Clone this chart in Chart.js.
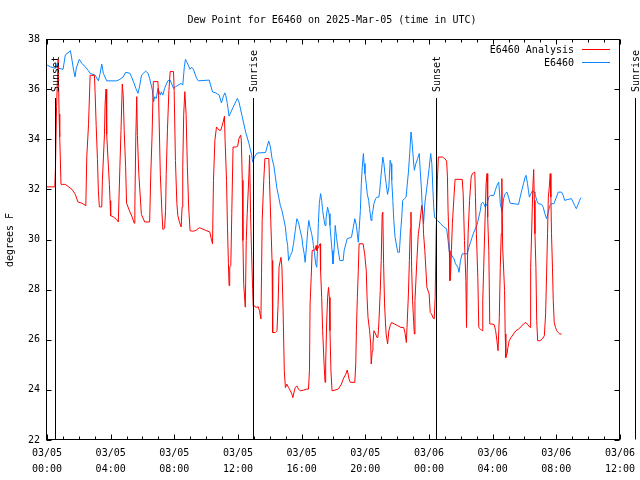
<!DOCTYPE html>
<html>
<head>
<meta charset="utf-8">
<script src="https://cdn.jsdelivr.net/npm/chart.js@4"></script>
<style>
  html, body { margin: 0; padding: 0; background: #fff; }
  canvas { display: block; }
</style>
</head>
<body>
<canvas id="chart" width="640" height="480"></canvas>
<script>
const chartTitle = 'Dew Point for E6460 on 2025-Mar-05 (time in UTC)';
const yTitle = 'degrees F';
const dayLabels = ['03/05', '03/06'];
const analysisLabel = 'E6460 Analysis';
const stationLabel = 'E6460';

// hours since 03/05 00:00 UTC
const analysisHours = [
  0.00, 0.49, 0.53, 0.60, 0.70, 0.76, 0.80, 0.88, 0.99, 1.15, 1.36, 1.57, 1.78, 1.94, 2.19, 2.44,
  2.50, 2.61, 2.71, 2.98, 3.02, 3.09, 3.17, 3.23, 3.29, 3.44, 3.48, 3.61, 3.65, 3.71, 3.75, 3.86,
  3.92, 3.96, 4.00, 4.17, 4.37, 4.48, 4.58, 4.65, 4.73, 4.79, 4.85, 4.94, 5.00, 5.21, 5.35, 5.48,
  5.52, 5.58, 5.64, 5.68, 5.77, 5.93, 6.14, 6.45, 6.52, 6.60, 6.68, 6.97, 7.01, 7.12, 7.22, 7.28,
  7.39, 7.45, 7.49, 7.57, 7.66, 7.74, 7.95, 7.99, 8.07, 8.16, 8.22, 8.32, 8.43, 8.49, 8.53, 8.59,
  8.66, 8.74, 8.82, 8.90, 8.99, 9.16, 9.36, 9.57, 9.67, 9.98, 10.23, 10.32, 10.40, 10.46, 10.55, 10.65,
  10.82, 10.92, 10.98, 11.07, 11.15, 11.19, 11.28, 11.34, 11.40, 11.44, 11.48, 11.55, 11.61, 11.69, 11.86, 11.98,
  12.06, 12.17, 12.21, 12.27, 12.31, 12.36, 12.46, 12.52, 12.58, 12.69, 12.73, 12.79, 12.85, 12.92, 12.96, 13.00,
  13.14, 13.27, 13.35, 13.44, 13.48, 13.52, 13.62, 13.69, 13.94, 13.98, 14.06, 14.14, 14.18, 14.35, 14.45, 14.52,
  14.58, 14.70, 14.76, 14.83, 14.91, 14.98, 15.07, 15.18, 15.29, 15.39, 15.45, 15.54, 15.60, 15.70, 15.80, 15.91,
  16.12, 16.32, 16.43, 16.49, 16.53, 16.60, 16.66, 16.85, 16.91, 16.95, 17.16, 17.19, 17.26, 17.32, 17.41, 17.47,
  17.51, 17.57, 17.63, 17.69, 17.74, 17.78, 17.84, 17.91, 18.09, 18.30, 18.50, 18.61, 18.78, 18.86, 18.92, 18.98,
  19.06, 19.34, 19.40, 19.44, 19.50, 19.56, 19.61, 19.86, 19.96, 20.06, 20.11, 20.17, 20.27, 20.34, 20.37, 20.44,
  20.48, 20.54, 20.65, 20.73, 20.79, 20.85, 20.94, 21.00, 21.06, 21.10, 21.15, 21.21, 21.27, 21.31, 21.40, 21.48,
  21.56, 21.65, 21.83, 22.04, 22.24, 22.41, 22.49, 22.58, 22.62, 22.71, 22.77, 22.83, 22.87, 22.91, 22.97, 23.08,
  23.12, 23.24, 23.33, 23.39, 23.49, 23.55, 23.62, 23.66, 23.74, 23.87, 24.01, 24.08, 24.16, 24.26, 24.33, 24.39,
  24.45, 24.53, 24.59, 24.84, 24.99, 25.11, 25.16, 25.20, 25.28, 25.32, 25.36, 25.41, 25.47, 25.57, 25.64, 26.09,
  26.15, 26.23, 26.32, 26.36, 26.40, 26.46, 26.55, 26.65, 26.73, 26.82, 26.88, 26.92, 26.98, 27.07, 27.13, 27.23,
  27.34, 27.38, 27.44, 27.51, 27.59, 27.65, 27.69, 27.76, 27.82, 27.96, 28.10, 28.19, 28.27, 28.34, 28.42, 28.48,
  28.54, 28.58, 28.63, 28.75, 28.79, 28.83, 28.90, 28.96, 29.04, 29.16, 29.31, 29.46, 29.63, 29.79, 29.94, 30.08,
  30.21, 30.35, 30.37, 30.41, 30.46, 30.52, 30.58, 30.62, 30.66, 30.72, 30.77, 30.83, 30.97, 31.12, 31.25, 31.33,
  31.39, 31.45, 31.50, 31.56, 31.62, 31.66, 31.70, 31.76, 31.81, 31.87, 31.95, 32.03, 32.12, 32.22, 32.33
];
const analysisDewpt = [
  32.1, 32.1, 32.8, 35.3, 37.2, 35.0, 34.1, 32.2, 32.2, 32.2, 32.1, 32.0, 31.8, 31.5, 31.45, 31.35,
  33.3, 34.6, 36.55, 36.55, 35.9, 34.55, 33.2, 31.9, 31.3, 31.3, 32.35, 34.2, 35.4, 36.0, 34.2, 32.9,
  32.2, 31.55, 30.95, 30.9, 30.8, 30.7, 32.9, 34.35, 36.2, 35.75, 34.35, 32.9, 31.45, 31.1, 30.9, 30.65,
  31.3, 34.1, 35.7, 34.15, 32.6, 31.0, 30.7, 30.7, 32.6, 34.1, 36.3, 36.3, 35.75, 32.6, 31.1, 30.4,
  30.45, 31.15, 32.6, 34.4, 35.95, 36.7, 36.7, 35.95, 33.15, 31.45, 30.95, 30.7, 30.5, 31.3, 32.9, 35.0,
  35.9, 35.0, 32.9, 31.3, 30.35, 30.33, 30.36, 30.47, 30.45, 30.36, 30.3, 30.03, 29.83, 32.36, 33.96, 34.49,
  34.36, 34.36, 34.49, 34.69, 34.92, 33.96, 32.36, 30.49, 29.03, 28.16, 28.9, 28.96, 31.03, 33.69, 33.69, 33.72,
  34.03, 34.16, 33.96, 32.36, 29.96, 28.2, 27.3, 29.96, 31.03, 32.63, 33.36, 31.03, 29.56, 28.04, 27.32, 27.36,
  27.29, 27.32, 27.16, 26.83, 28.63, 30.76, 32.36, 33.23, 33.23, 32.36, 30.76, 29.16, 26.29, 26.29, 26.36, 27.4,
  28.9, 29.29, 28.9, 27.3, 24.76, 24.09, 24.23, 24.09, 23.96, 23.83, 23.69, 23.96, 24.09, 24.16, 24.03, 23.96,
  23.99, 24.03, 24.03, 24.76, 27.43, 28.49, 29.56, 29.59, 29.76, 29.56, 29.83, 28.76, 27.69, 26.36, 25.03, 24.3,
  25.03, 26.63, 27.69, 28.09, 27.69, 26.36, 24.76, 23.96, 23.99, 24.03, 24.23, 24.43, 24.63, 24.79, 24.63, 24.43,
  24.3, 24.3, 25.03, 26.36, 27.69, 28.76, 29.83, 29.83, 29.43, 28.76, 27.69, 26.89, 26.36, 25.83, 25.03, 25.56,
  25.83, 26.36, 26.23, 26.09, 26.09, 26.63, 27.96, 29.16, 31.03, 31.09, 29.03, 27.43, 26.63, 26.23, 25.83, 26.36,
  26.56, 26.69, 26.63, 26.56, 26.49, 26.49, 26.29, 25.89, 26.49, 27.83, 29.16, 30.43, 31.09, 28.89, 27.56, 26.23,
  27.56, 29.16, 30.23, 30.49, 31.03, 31.36, 30.96, 30.23, 29.56, 28.09, 27.83, 27.09, 27.03, 26.87, 26.83, 27.69,
  30.23, 32.36, 33.29, 33.29, 33.23, 33.13, 32.49, 31.16, 29.56, 28.36, 28.63, 29.56, 30.63, 31.69, 32.4, 32.4,
  31.83, 29.96, 28.36, 26.49, 28.63, 30.23, 31.56, 32.49, 32.63, 32.67, 32.69, 31.69, 30.23, 28.49, 26.49, 26.43,
  26.36, 27.56, 28.89, 30.49, 32.23, 32.63, 30.89, 29.56, 26.63, 26.63, 26.6, 26.36, 25.96, 25.56, 26.89, 28.89,
  30.23, 32.43, 29.7, 27.96, 26.23, 25.29, 25.43, 25.69, 25.96, 26.09, 26.23, 26.36, 26.43, 26.52, 26.63, 26.69,
  26.6, 26.49, 27.29, 28.89, 30.49, 31.96, 32.79, 31.56, 30.23, 28.89, 26.76, 25.96, 25.96, 26.03, 26.16, 27.03,
  28.63, 30.23, 31.69, 32.09, 32.63, 31.69, 30.23, 28.89, 27.56, 26.69, 26.49, 26.36, 26.29, 26.23, 26.23
];

const stationHours = [
  0.01, 0.22, 0.53, 0.64, 0.74, 1.01, 1.15, 1.47, 1.53, 1.67, 1.76, 1.84, 2.03, 2.19, 2.40, 2.61,
  2.71, 3.02, 3.23, 3.34, 3.44, 3.54, 3.75, 4.38, 4.58, 4.79, 4.94, 5.21, 5.31, 5.46, 5.58, 5.72,
  5.83, 5.94, 6.20, 6.35, 6.45, 6.62, 6.70, 6.76, 6.87, 6.97, 7.12, 7.18, 7.28, 7.39, 7.59, 7.74,
  7.95, 8.07, 8.43, 8.53, 8.63, 8.70, 8.78, 8.99, 9.09, 9.20, 9.40, 9.51, 10.19, 10.40, 10.61, 10.82,
  10.96, 11.07, 11.17, 11.23, 11.33, 11.44, 11.69, 11.96, 12.06, 12.27, 12.48, 12.69, 12.86, 12.92, 13.04, 13.20,
  13.73, 13.93, 14.04, 14.14, 14.25, 14.35, 14.45, 14.56, 14.66, 14.76, 14.87, 14.98, 15.04, 15.12, 15.18, 15.29,
  15.39, 15.49, 15.60, 15.70, 15.80, 15.91, 16.01, 16.07, 16.16, 16.22, 16.32, 16.38, 16.45, 16.53, 16.63, 16.70,
  16.74, 16.80, 16.88, 16.95, 17.01, 17.05, 17.11, 17.19, 17.26, 17.32, 17.41, 17.47, 17.53, 17.63, 17.72, 17.78,
  17.84, 17.91, 17.97, 18.05, 18.11, 18.19, 18.30, 18.40, 18.61, 18.67, 18.78, 18.86, 19.13, 19.23, 19.34, 19.44,
  19.50, 19.56, 19.61, 19.69, 19.75, 19.81, 19.88, 19.92, 19.98, 20.06, 20.12, 20.21, 20.27, 20.36, 20.42, 20.48,
  20.54, 20.65, 20.73, 20.85, 20.90, 20.96, 21.04, 21.10, 21.17, 21.23, 21.31, 21.40, 21.48, 21.56, 21.62, 21.66,
  21.73, 21.79, 21.87, 22.04, 22.14, 22.21, 22.29, 22.35, 22.46, 22.56, 22.62, 22.71, 22.79, 22.87, 22.93, 22.99,
  23.08, 23.18, 23.29, 23.39, 23.45, 23.52, 23.58, 23.66, 23.74, 23.87, 24.01, 24.11, 24.18, 24.24, 24.30, 24.35,
  24.43, 24.53, 24.74, 24.95, 25.11, 25.20, 25.28, 25.36, 25.57, 25.67, 25.82, 25.89, 25.98, 26.09, 26.40, 26.51,
  26.61, 26.71, 26.82, 26.92, 27.03, 27.13, 27.23, 27.29, 27.38, 27.44, 27.54, 27.65, 27.76, 27.86, 28.07, 28.17,
  28.27, 28.38, 28.44, 28.48, 28.60, 28.69, 28.79, 28.90, 29.00, 29.10, 29.63, 29.73, 29.83, 29.94, 30.04, 30.10,
  30.19, 30.25, 30.31, 30.41, 30.52, 30.60, 30.66, 30.77, 30.87, 31.08, 31.18, 31.28, 31.39, 31.50, 31.60, 31.70,
  31.85, 32.01, 32.12, 32.33, 32.43, 32.53, 32.68, 32.95, 33.06, 33.15, 33.26, 33.37, 33.47, 33.54
];
const stationDewpt = [
  36.96, 36.89, 36.83, 37.03, 36.83, 36.79, 37.36, 37.53, 37.32, 36.76, 36.49, 36.83, 37.19, 37.03, 36.89, 36.73,
  36.63, 36.56, 36.33, 36.63, 37.0, 36.63, 36.33, 36.33, 36.39, 36.49, 36.67, 36.63, 36.49, 36.25, 36.03, 35.83,
  36.16, 36.56, 36.72, 36.63, 36.43, 35.96, 35.49, 35.69, 35.63, 36.03, 35.76, 35.89, 35.76, 36.03, 36.33, 36.36,
  36.03, 36.09, 36.23, 36.16, 36.89, 37.19, 37.09, 36.79, 36.87, 36.79, 36.43, 36.33, 36.36, 35.89, 35.85, 35.76,
  35.45, 35.69, 35.85, 35.76, 35.43, 34.92, 35.27, 35.63, 35.49, 34.89, 34.29, 33.83, 33.36, 33.09, 33.29, 33.45,
  33.47, 33.93, 33.69, 33.23, 32.96, 32.49, 32.03, 31.69, 31.36, 31.16, 30.83, 30.49, 30.09, 29.76, 29.16, 29.36,
  29.49, 29.83, 30.36, 30.83, 30.69, 30.36, 30.09, 29.76, 29.43, 29.09, 29.83, 30.36, 30.76, 30.49, 30.23, 29.96,
  29.76, 29.49, 29.03, 28.89, 29.83, 30.63, 31.43, 31.83, 31.56, 31.16, 30.76, 30.56, 30.83, 31.29, 31.03, 30.56,
  30.09, 29.56, 29.03, 29.69, 30.56, 30.09, 29.56, 29.16, 29.16, 29.56, 29.83, 30.03, 30.09, 30.43, 30.83, 30.56,
  30.23, 29.89, 30.36, 31.16, 32.23, 32.89, 33.43, 33.03, 32.63, 32.23, 31.83, 31.56, 31.23, 30.76, 30.96, 31.16,
  31.43, 31.63, 31.69, 31.69, 31.89, 32.36, 32.89, 33.29, 33.03, 32.63, 32.23, 31.8, 32.09, 33.16, 33.03, 32.36,
  31.56, 30.76, 30.09, 29.49, 29.49, 30.23, 30.89, 31.56, 31.63, 31.69, 32.09, 32.69, 33.43, 34.29, 33.96, 33.43,
  32.76, 33.03, 33.23, 33.43, 32.76, 32.09, 31.29, 30.63, 31.43, 32.09, 32.83, 33.43, 33.03, 32.09, 31.29, 30.9,
  30.83, 30.76, 30.63, 30.49, 30.43, 29.96, 29.49, 29.43, 29.23, 29.03, 28.89, 28.69, 29.16, 29.43, 29.43, 29.69,
  29.89, 30.09, 30.29, 30.43, 30.6, 30.89, 31.16, 31.43, 31.49, 31.43, 31.29, 31.43, 31.69, 31.76, 31.76, 31.96,
  32.16, 32.29, 31.83, 31.43, 31.09, 31.63, 31.83, 31.89, 31.69, 31.45, 31.4, 31.69, 31.96, 32.23, 32.49, 32.56,
  32.23, 31.96, 31.69, 31.83, 31.96, 31.89, 31.83, 31.56, 31.43, 31.4, 31.29, 31.03, 30.83, 31.09, 31.36, 31.43,
  31.43, 31.69, 31.89, 31.89, 31.76, 31.56, 31.59, 31.63, 31.49, 31.36, 31.23, 31.4, 31.56, 31.67
];

const sunHours = [0.48, 12.93, 24.44, 36.92];
const sunLabels = ['Sunset', 'Sunrise', 'Sunset', 'Sunrise'];

const mono = '"DejaVu Sans Mono", monospace';
const toPoints = (xs, ys) => xs.map((x, i) => ({ x: x, y: ys[i] }));
const pad2 = n => String(n).padStart(2, '0');

const frame = {
  id: 'frame',
  afterDraw(chart) {
    const ctx = chart.ctx;
    const { left, right, top, bottom } = chart.chartArea;
    const xs = chart.scales.x, ys = chart.scales.y;
    const L = Math.round(left) - 0.5, R = Math.round(right) - 0.5;
    const T = Math.round(top) + 0.5, B = Math.round(bottom) - 0.5;
    ctx.save();
    ctx.strokeStyle = '#000';
    ctx.lineWidth = 1;
    ctx.strokeRect(L, T, R - L, B - T);

    // inward ticks
    ctx.beginPath();
    for (let h = 0; h <= 36; h++) {
      const px = Math.round(xs.getPixelForValue(h)) + 0.5;
      const len = h % 4 === 0 ? 5 : 3;
      ctx.moveTo(px, B); ctx.lineTo(px, B - len);
      ctx.moveTo(px, T); ctx.lineTo(px, T + len);
    }
    for (let v = 22; v <= 38; v += 2) {
      const py = Math.round(ys.getPixelForValue(v)) + 0.5;
      ctx.moveTo(L, py); ctx.lineTo(L + 5, py);
      ctx.moveTo(R, py); ctx.lineTo(R - 5, py);
    }
    ctx.stroke();

    // sunrise / sunset markers
    ctx.font = '10px ' + mono;
    ctx.fillStyle = '#000';
    sunHours.forEach((h, i) => {
      const px = Math.round(xs.getPixelForValue(h)) + 0.5;
      ctx.beginPath();
      ctx.moveTo(px, 98); ctx.lineTo(px, B);
      ctx.stroke();
      ctx.save();
      ctx.translate(px + 1, 92);
      ctx.rotate(-Math.PI / 2);
      ctx.textAlign = 'left';
      ctx.textBaseline = 'middle';
      ctx.fillText(sunLabels[i], 0, 0);
      ctx.restore();
    });

    // title
    ctx.textAlign = 'center';
    ctx.textBaseline = 'middle';
    ctx.fillText(chartTitle, 332, 20);

    // y axis title
    ctx.save();
    ctx.translate(10, 240);
    ctx.rotate(-Math.PI / 2);
    ctx.fillText(yTitle, 0, 0);
    ctx.restore();

    // legend
    ctx.textAlign = 'right';
    chart.data.datasets.forEach((ds, i) => {
      const y = 50 + i * 13;
      ctx.fillStyle = '#000';
      ctx.fillText(ds.label, 574, y);
      ctx.strokeStyle = ds.borderColor;
      ctx.beginPath();
      ctx.moveTo(582, y - 0.5); ctx.lineTo(610, y - 0.5);
      ctx.stroke();
    });
    ctx.restore();
  }
};

new Chart(document.getElementById('chart'), {
  type: 'line',
  data: {
    datasets: [
      {
        label: analysisLabel,
        data: toPoints(analysisHours, analysisDewpt),
        borderColor: '#ff0000',
        order: 0
      },
      {
        label: stationLabel,
        data: toPoints(stationHours, stationDewpt),
        borderColor: '#0a84ff',
        order: 1
      }
    ]
  },
  options: {
    responsive: false,
    animation: false,
    devicePixelRatio: 1,
    layout: { padding: { top: 39, right: 18, left: 0, bottom: 0 } },
    elements: {
      point: { radius: 0 },
      line: { borderWidth: 1, tension: 0, fill: false }
    },
    plugins: {
      legend: { display: false },
      title: { display: false },
      tooltip: { enabled: false }
    },
    scales: {
      x: {
        type: 'linear',
        min: 0,
        max: 36,
        afterFit: s => { s.height = 40; },
        grid: { display: false, drawTicks: false },
        border: { display: false },
        ticks: {
          stepSize: 4,
          autoSkip: false,
          maxRotation: 0,
          padding: 5,
          color: '#000',
          font: { family: mono, size: 10, lineHeight: 1.6 },
          callback: v => [dayLabels[Math.floor(v / 24)], pad2(v % 24) + ':00']
        }
      },
      y: {
        min: 22,
        max: 38,
        afterFit: s => { s.width = 47; },
        grid: { display: false, drawTicks: false },
        border: { display: false },
        ticks: {
          stepSize: 2,
          padding: 7,
          color: '#000',
          font: { family: mono, size: 10 }
        }
      }
    }
  },
  plugins: [frame]
});
</script>
</body>
</html>
